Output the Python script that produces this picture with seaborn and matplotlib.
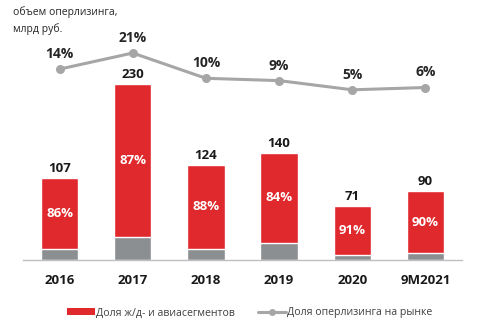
import matplotlib
matplotlib.use("Agg")
import matplotlib.pyplot as plt
import seaborn as sns
import pandas as pd
import numpy as np
from matplotlib.lines import Line2D
from matplotlib.patches import Patch

categories = ["2016", "2017", "2018", "2019", "2020", "9M2021"]
volume = [107, 230, 124, 140, 71, 90]
segment_share = [86, 87, 88, 84, 91, 90]
market_share = [14, 21, 10, 9, 5, 6]

red = "#E0292C"
grey_bar = "#8C8F92"
grey_line = "#A6A6A6"

sns.set_theme(style="white")
plt.rcParams["font.family"] = ["Open Sans", "DejaVu Sans"]

df = pd.DataFrame({"cat": categories, "vol": volume, "seg": segment_share, "mkt": market_share})
df["other"] = df["vol"] * (100 - df["seg"]) / 100

fig = plt.figure(figsize=(4.87, 3.28), dpi=100)
ax = fig.add_axes([23 / 487, (328 - 260) / 328, (462 - 23) / 487, 250 / 328])

sns.barplot(data=df, x="cat", y="vol", color=red, width=0.51, ax=ax, saturation=1)
sns.barplot(data=df, x="cat", y="other", color=grey_bar, width=0.51, ax=ax, saturation=1)
ax.set_xlim(-0.5, 5.5)
ax.set_ylim(0, 327)
ax.set_xlabel("")
ax.set_ylabel("")
ax.set_yticks([])
for s in ["top", "left", "right"]:
    ax.spines[s].set_visible(False)
ax.spines["bottom"].set_color("#BFBFBF")
ax.spines["bottom"].set_linewidth(1.0)
ax.tick_params(axis="x", length=0, pad=10, labelsize=9.5)
for t in ax.get_xticklabels():
    t.set_fontweight("bold")
    t.set_color("#1a1a1a")

for i, (v, s, o) in enumerate(zip(df["vol"], df["seg"], df["other"])):
    ax.text(i, v + 4, str(v), ha="center", va="bottom", fontsize=9.5, fontweight="bold", color="#1a1a1a")
    ax.text(i, o + (v - o) / 2, f"{s}%", ha="center", va="center", fontsize=9.5, fontweight="bold", color="white")

ax2 = ax.twinx()
ax2.set_position(ax.get_position())
sns.lineplot(x=np.arange(len(categories)), y=market_share, ax=ax2, color=grey_line, linewidth=2.2,
             marker="o", markersize=6.5, markeredgewidth=0, markerfacecolor=grey_line)
ax2.set_ylim(-69, 39.7)
ax2.set_yticks([])
for s in ["top", "left", "right", "bottom"]:
    ax2.spines[s].set_visible(False)
for i, m in enumerate(market_share):
    ax2.text(i, m + 3.5, f"{m}%", ha="center", va="bottom", fontsize=10, fontweight="bold", color="#262626")

fig.text(13 / 487, 1 - 6 / 328, "объем оперлизинга,\nмлрд руб.", ha="left", va="top", fontsize=7.5,
         color="#262626", linespacing=1.6)

handles = [Patch(facecolor=red, edgecolor="none"),
           Line2D([0], [0], color=grey_line, linewidth=2.2, marker="o", markersize=5, markeredgewidth=0)]
labels = ["Доля ж/д- и авиасегментов", "Доля оперлизинга на рынке"]
leg = fig.legend(handles, labels, loc="center", bbox_to_anchor=(0.513, 1 - 313 / 328), ncol=2, frameon=False,
                 fontsize=7.6, handlelength=2.6, handleheight=0.6, handletextpad=0.15, columnspacing=2.2)
for t in leg.get_texts():
    t.set_color("#404040")

fig.savefig("out.png", dpi=100)
